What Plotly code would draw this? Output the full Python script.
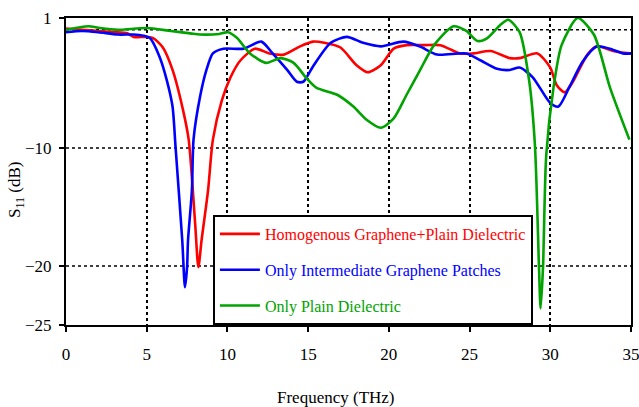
import plotly.graph_objects as go

# ---- data ----
red_x = [0, 1, 2, 3, 3.8, 4.2, 5.0, 5.4, 6.0, 6.6, 7.25, 7.6, 8.0, 8.2, 8.4, 8.8, 9.1, 9.65,
         10.2, 10.8, 11.7, 12.6, 13.5, 14.5, 15.3, 16.0, 17.0, 18.0, 18.7, 19.5, 20.3, 21.1,
         22.2, 23.2, 24.4, 25.2, 26.3, 27.5, 28.1, 29.2, 30.0, 30.4, 30.9, 31.4, 32.3, 32.9,
         33.9, 34.9, 35]
red_y = [0.1, 0.0, -0.1, -0.2, -0.3, -0.6, -0.6, -0.7, -1.5, -3.4, -6.8, -9.3, -16.4, -20.1,
         -17.8, -13.6, -9.3, -6.0, -4.0, -2.6, -1.6, -2.0, -2.1, -1.4, -1.0, -1.1, -1.5, -3.0,
         -3.6, -3.0, -1.6, -1.3, -1.3, -1.3, -2.0, -2.0, -1.8, -2.4, -2.4, -2.0, -3.2, -4.7,
         -5.3, -4.4, -2.1, -1.4, -1.8, -2.0, -2.0]

blue_x = [0, 1, 2, 3.2, 4.2, 4.8, 5.2, 5.8, 6.25, 6.6, 6.78, 7.2, 7.37, 7.5, 7.56, 7.8, 7.9,
          8.3, 8.7, 9.1, 9.75, 11.0, 12.1, 12.8, 13.7, 14.3, 14.7, 15.3, 16.4, 17.4, 18.4,
          19.5, 20.9, 21.9, 23.0, 24.8, 25.7, 26.7, 27.5, 28.1, 28.9, 30.0, 30.5, 31.2, 32.0,
          32.9, 33.9, 34.5, 35]
blue_y = [-0.2, -0.1, -0.2, -0.4, -0.4, -0.5, -0.7, -2.3, -4.3, -6.5, -9.8, -17.8, -21.8,
          -20.1, -17.8, -13.6, -9.3, -5.7, -3.4, -2.0, -1.6, -1.6, -1.0, -2.0, -3.4, -4.4,
          -4.4, -3.1, -1.1, -0.6, -1.1, -1.4, -1.0, -1.4, -2.1, -2.0, -2.6, -3.3, -3.4, -3.2,
          -4.0, -6.2, -6.5, -4.8, -2.7, -1.4, -1.7, -2.0, -2.0]

green_x = [0, 0.8, 1.4, 2.1, 3.2, 5.0, 6.5, 7.7, 8.3, 9.5, 10.05, 10.6, 11.4, 12.4, 13.3,
           14.1, 14.9, 15.5, 16.8, 17.8, 18.6, 19.5, 20.3, 21.1, 21.9, 22.8, 24.0, 24.8,
           25.5, 26.1, 26.9, 27.4, 28.1, 28.7, 29.05, 29.3, 29.4, 29.55, 29.75, 30.2, 30.7,
           31.7, 32.7, 33.7, 34.9]
green_y = [0.0, 0.2, 0.3, 0.15, 0.0, 0.15, -0.1, -0.3, -0.4, -0.35, -0.2, -0.7, -2.0, -2.8,
           -2.4, -2.8, -4.1, -4.9, -5.5, -6.5, -7.6, -8.3, -7.5, -5.5, -3.5, -1.3, 0.3, -0.1,
           -0.95, -0.7, 0.4, 0.85, -0.2, -4.4, -9.8, -20.1, -23.6, -20.1, -10.6, -4.9, -1.3,
           1.0, -0.4, -4.9, -9.3]

series_names = ["Homogenous Graphene+Plain Dielectric",
                "Only Intermediate Graphene Patches",
                "Only Plain Dielectric"]
series_colors = ["#ff0000", "#0000ff", "#00a300"]

x_ticks = [0, 5, 10, 15, 20, 25, 30, 35]
y_ticks = [1, -10, -20, -25]
y_grid = [0, -10, -20]

FONT = "Liberation Serif, Times New Roman, serif"

fig = go.Figure()
for i, (xs, ys) in enumerate([(red_x, red_y), (blue_x, blue_y), (green_x, green_y)]):
    fig.add_trace(go.Scatter(
        x=xs, y=ys, mode="lines",
        line=dict(color=series_colors[i], width=2.6, shape="spline", smoothing=0.7),
        name=f"<span style='color:{series_colors[i]}'>{series_names[i]}</span>",
        legendgroup=f"g{i}",
    ))

shapes = []
for g in y_grid:
    shapes.append(dict(type="line", xref="paper", x0=0, x1=1, yref="y", y0=g, y1=g,
                       line=dict(color="black", width=1.5, dash="dot"), layer="below"))
fig.update_layout(shapes=shapes)

fig.update_xaxes(range=[0, 35], tickvals=x_ticks, ticks="outside", ticklen=5,
                 tickcolor="black", tickwidth=1.5, automargin=False,
                 ticklabeloverflow="allow",
                 showline=True, linecolor="black", linewidth=2, mirror=True,
                 showgrid=True, gridcolor="black", gridwidth=1.5, griddash="dot",
                 zeroline=False, tickfont=dict(family=FONT, size=17, color="black"),
                 ticklabelstandoff=8)
fig.update_yaxes(range=[-25, 1], tickvals=y_ticks, ticks="outside", ticklen=5,
                 tickcolor="black", tickwidth=1.5, automargin=False,
                 ticklabeloverflow="allow",
                 showline=True, linecolor="black", linewidth=2, mirror=True,
                 showgrid=False, zeroline=False,
                 tickfont=dict(family=FONT, size=17, color="black"), ticklabelstandoff=4)

fig.update_layout(
    width=639, height=407,
    margin=dict(l=66, r=8, t=18, b=82),
    paper_bgcolor="white", plot_bgcolor="white",
    showlegend=True,
    legend=dict(x=0.26, y=0, xanchor="left", yanchor="bottom",
                bgcolor="white", bordercolor="black", borderwidth=2,
                font=dict(family=FONT, size=16, color="black"),
                traceorder="grouped", tracegroupgap=12, itemwidth=40),
    annotations=[
        dict(text="Frequency (THz)", xref="paper", yref="paper", x=0.478, y=0,
             yshift=-72, xanchor="center", yanchor="middle", showarrow=False,
             font=dict(family=FONT, size=17, color="black")),
        dict(text="S<sub>11</sub> (dB)", xref="paper", yref="paper", x=0, y=0.44,
             xshift=-50, xanchor="center", yanchor="middle", textangle=-90,
             showarrow=False, font=dict(family=FONT, size=17, color="black")),
    ],
)

fig.write_html("out.html")
